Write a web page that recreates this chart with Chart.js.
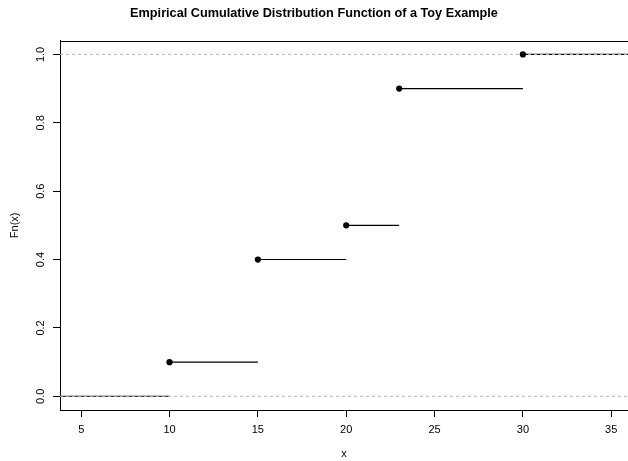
<!DOCTYPE html>
<html><head><meta charset="utf-8">
<script src="https://cdn.jsdelivr.net/npm/chart.js@4/dist/chart.umd.min.js"></script>
<style>html,body{margin:0;padding:0;background:#fff}</style>
</head><body>
<canvas id="c" width="628" height="461" style="width:628px;height:461px;display:block"></canvas>
<script>
// ---- data ----
const knots = [10, 15, 20, 23, 30];
const fnValues = [0.1, 0.4, 0.5, 0.9, 1.0];
const xTicks = [5, 10, 15, 20, 25, 30, 35];
const yTicks = [0.0, 0.2, 0.4, 0.6, 0.8, 1.0];
const xRange = [3.8, 35.95];
const yRange = [-0.04, 1.04];
const refLevels = [0, 1];
const titleText = 'Empirical Cumulative Distribution Function of a Toy Example';
const xLabel = 'x';
const yLabel = 'Fn(x)';

const FONT = "'Liberation Sans', Arial, Helvetica, sans-serif";

// step segments
const datasets = [];
for (let i = -1; i < knots.length; i++) {
  const x0 = i < 0 ? xRange[0] : knots[i];
  const x1 = i === knots.length - 1 ? xRange[1] : knots[i + 1];
  const y = i < 0 ? 0 : fnValues[i];
  datasets.push({
    data: [{x: x0, y: y}, {x: x1, y: y}],
    showLine: true, borderColor: '#000', borderWidth: 1.1,
    pointRadius: 0, pointHoverRadius: 0, order: 2
  });
}
// dashed reference lines (drawn on top)
refLevels.forEach(l => datasets.push({
  data: [{x: xRange[0], y: l}, {x: xRange[1], y: l}],
  showLine: true, borderColor: '#b3b3b3', borderWidth: 1, borderDash: [3, 3],
  pointRadius: 0, pointHoverRadius: 0, order: 1
}));
// closed points
datasets.push({
  data: knots.map((k, i) => ({x: k, y: fnValues[i]})),
  showLine: false, pointRadius: 3.1, pointBackgroundColor: '#000',
  pointBorderColor: '#000', pointBorderWidth: 0, order: 0
});

const framePlugin = {
  id: 'frame',
  afterDraw(chart) {
    const {ctx, chartArea: a} = chart;
    ctx.save();
    ctx.strokeStyle = '#000'; ctx.lineWidth = 1;
    ctx.beginPath();
    ctx.moveTo(a.left, Math.round(a.top) + 0.5);
    ctx.lineTo(a.right, Math.round(a.top) + 0.5);
    ctx.stroke();
    ctx.restore();
  }
};

new Chart(document.getElementById('c'), {
  type: 'scatter',
  data: {datasets},
  plugins: [framePlugin],
  options: {
    responsive: false, animation: false, devicePixelRatio: 1,
    layout: {padding: 0, autoPadding: false},
    plugins: {
      legend: {display: false}, tooltip: {enabled: false},
      title: {display: true, text: titleText, color: '#000',
        font: {family: FONT, size: 12.7, weight: 'bold'},
        padding: {top: 5.5, bottom: 20}}
    },
    scales: {
      x: {
        type: 'linear', min: xRange[0], max: xRange[1],
        afterBuildTicks: s => { s.ticks = xTicks.map(v => ({value: v})); },
        afterFit: s => { s.height = 51; s.paddingLeft = 0; s.paddingRight = 0; },
        ticks: {color: '#000', font: {family: FONT, size: 11}, padding: 6,
          maxRotation: 0, autoSkip: false, callback: v => String(v)},
        grid: {drawOnChartArea: false, drawTicks: true, tickLength: 7, color: '#000'},
        border: {display: true, color: '#000', width: 1},
        title: {display: true, text: xLabel, color: '#000',
          font: {family: FONT, size: 11}, padding: {top: 0, bottom: 0}}
      },
      y: {
        type: 'linear', min: yRange[0], max: yRange[1],
        afterBuildTicks: s => { s.ticks = yTicks.map(v => ({value: v})); },
        afterFit: s => { s.width = 60; s.paddingTop = 0; s.paddingBottom = 0; },
        ticks: {color: '#000', font: {family: FONT, size: 11}, padding: 4,
          minRotation: 90, maxRotation: 90, crossAlign: 'center', autoSkip: false,
          callback: v => Number(v).toFixed(1)},
        grid: {drawOnChartArea: false, drawTicks: true, tickLength: 7, color: '#000'},
        border: {display: true, color: '#000', width: 1},
        title: {display: true, text: yLabel, color: '#000',
          font: {family: FONT, size: 11}, padding: {top: 8, bottom: 0}}
      }
    }
  }
});
</script>
</body></html>
